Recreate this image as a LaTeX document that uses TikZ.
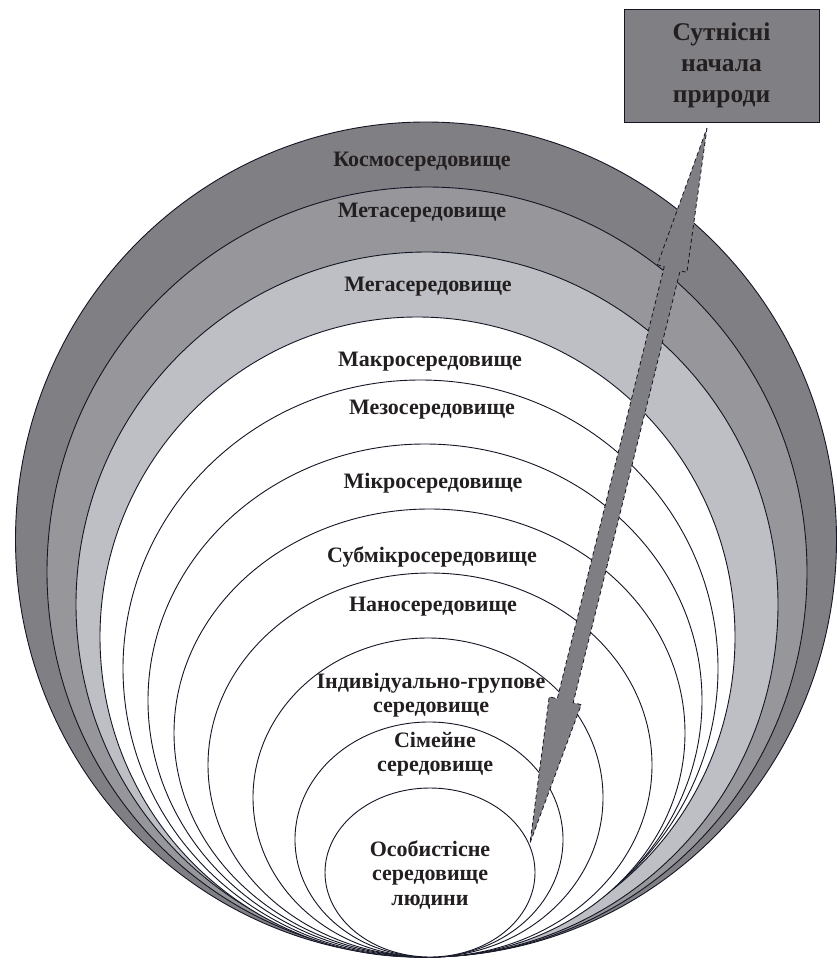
\documentclass[tikz,border=0pt]{standalone}
\usepackage{fontspec}
\setmainfont{Liberation Serif}
\definecolor{ringA}{HTML}{807F84}
\definecolor{ringB}{HTML}{96969B}
\definecolor{ringC}{HTML}{BDBFC4}
\definecolor{arrowgray}{HTML}{7F7E83}
\definecolor{inkline}{HTML}{141625}
\definecolor{inktext}{HTML}{231F20}
% all shapes rest on the same bottom line
\def\by{957}
% ellipse standing on the bottom line: centre x, top y, horizontal radius
\newcommand{\ring}[4]{%
  \path[#1] (#2,{(\by+#3)/2}) ellipse [x radius=#4, y radius={(\by-#3)/2}];}
\tikzset{
  ring/.style={draw=inkline, line width=0.9pt},
  lbl/.style={text=inktext, font=\bfseries\fontsize{22}{24.5}\selectfont, align=center, inner sep=0pt},
  boxtext/.style={text=inktext, font=\bfseries\fontsize{25.5}{31}\selectfont, align=center},
  blockarrow/.style={fill=arrowgray, draw=inkline, line width=0.8pt, dash pattern=on 4pt off 3pt}
}
\begin{document}
\begin{tikzpicture}[x=1pt,y=-1pt]
\useasboundingbox (0,0) rectangle (837,963);
% nested environments, outermost first
\ring{ring, fill=ringA}{426}{122}{410.5}
\ring{ring, fill=ringB}{427}{187}{380}
\ring{ring, fill=ringC}{427}{252}{351}
\ring{ring, fill=white}{417.5}{317}{317.5}
\ring{ring, fill=white}{420.5}{380}{297.5}
\ring{ring, fill=white}{425}{444}{277}
\ring{ring, fill=white}{429.5}{509}{255.5}
\ring{ring, fill=white}{430}{573}{222}
\ring{ring, fill=white}{428}{638}{175}
\ring{ring, fill=white}{429}{722}{134}
\ring{ring, fill=white}{430}{788}{105}
% labels
\node[lbl] (kosmo) at (422,162) {Космосередовище};
\node[lbl] (meta) at (422,213) {Метасередовище};
\node[lbl] (mega) at (428,287) {Мегасередовище};
\node[lbl] (makro) at (430,362) {Макросередовище};
\node[lbl] (mezo) at (432,410) {Мезосередовище};
\node[lbl] (mikro) at (433,483) {Мікросередовище};
\node[lbl] (submikro) at (432,557) {Субмікросередовище};
\node[lbl] (nano) at (433,607) {Наносередовище};
\node[lbl] (indiv) at (431,695) {Індивідуально-групове\\середовище};
\node[lbl] (simeine) at (435,754) {Сімейне\\середовище};
\node[lbl] (osob) at (430,875) {Особистісне\\середовище\\людини};
% double block arrow
\path[blockarrow] (707,128) -- (686.9,272.4) -- (680.1,270.7) -- (573.2,702.7)
  -- (581.2,704.7) -- (530,843) -- (549.2,696.8) -- (557.3,698.7)
  -- (664.2,266.8) -- (657.4,264.7) -- cycle;
% source box
\node[draw=inkline, line width=0.9pt, fill=ringA, minimum width=195, minimum height=113, boxtext] (source) at (721.5,65.5) {Сутнісні\\начала\\природи};
\end{tikzpicture}
\end{document}
